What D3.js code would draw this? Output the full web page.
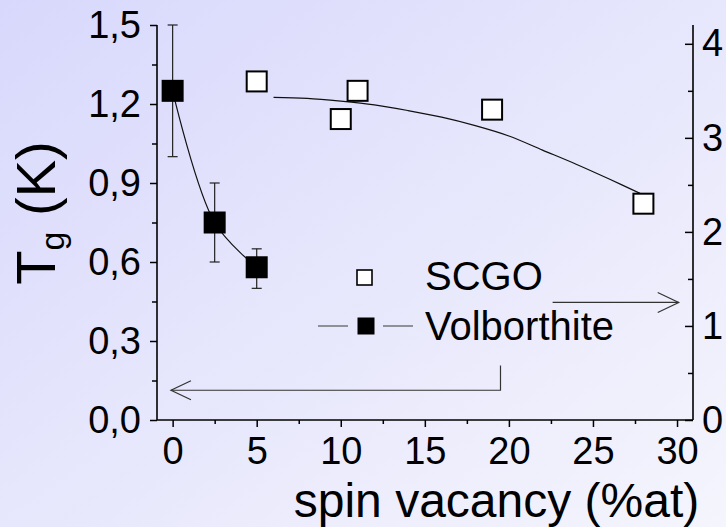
<!DOCTYPE html>
<html><head><meta charset="utf-8">
<script src="https://cdn.jsdelivr.net/npm/d3@7"></script>
<style>html,body{margin:0;padding:0;overflow:hidden;}svg{display:block;}</style>
</head><body>
<svg id="c" width="726" height="527"></svg>
<script>
// ---- data ----
const volbX = [0, 2.5, 5];
const volbY = [1.25, 0.75, 0.58];
const volbLo = [1.0, 0.6, 0.5];
const volbHi = [1.5, 0.9, 0.65];

const scgoX = [5, 10, 11, 19, 28];
const scgoY = [3.60, 3.20, 3.50, 3.30, 2.30];

const fitX = [6, 8, 10, 12, 14, 16, 18, 20, 22, 24, 26, 27.8];
const fitY = [3.43, 3.42, 3.39, 3.35, 3.29, 3.22, 3.13, 3.02, 2.87, 2.72, 2.56, 2.41];

const xTicks = [0, 5, 10, 15, 20, 25, 30];
const yLeftTicks = [0, 0.3, 0.6, 0.9, 1.2, 1.5];
const yLeftLabels = ["0,0", "0,3", "0,6", "0,9", "1,2", "1,5"];
const yRightTicks = [0, 1, 2, 3, 4];
const legendLabels = ["SCGO", "Volborthite"];

// annotation arrows in data units
const leftArrow = [[19.5, 0.207], [19.5, 0.113], [-0.1, 0.113]];
const rightArrow = [[22.6, 1.25], [30.1, 1.25]];

// ---- layout ----
const svg = d3.select("#c");
const FONT = "'Liberation Sans', Arial, Helvetica, sans-serif";
const L = 157, R = 693, T = 25, B = 420;

const x = d3.scaleLinear().domain([-0.93, 30.95]).range([L, R]);
const yL = d3.scaleLinear().domain([0, 1.5]).range([B, T]);
const yR = d3.scaleLinear().domain([0, 4.2]).range([B, T]);

// background
const defs = svg.append("defs");
const g = defs.append("linearGradient").attr("id", "bg")
  .attr("x1", "0").attr("y1", "0").attr("x2", "1").attr("y2", "1");
g.append("stop").attr("offset", "0").attr("stop-color", "#d8d8fc");
g.append("stop").attr("offset", "1").attr("stop-color", "#f5f5fd");
svg.append("rect").attr("width", 726).attr("height", 527).attr("fill", "url(#bg)");

// axes
const axX = d3.axisBottom(x).tickValues(xTicks).tickSize(7).tickPadding(10).tickFormat(d3.format("d"));
const axXm = d3.axisBottom(x).tickValues(d3.range(2.5, 30, 5)).tickSize(4).tickFormat("");
svg.append("g").attr("transform", `translate(0,${B})`).call(axX);
svg.append("g").attr("transform", `translate(0,${B})`).call(axXm);

const axL = d3.axisLeft(yL).tickValues(yLeftTicks).tickSize(7).tickPadding(9)
  .tickFormat((d, i) => yLeftLabels[i]);
const axLm = d3.axisLeft(yL).tickValues(d3.range(0.15, 1.5, 0.3)).tickSize(5).tickFormat("");
svg.append("g").attr("transform", `translate(${L},0)`).call(axL);
svg.append("g").attr("transform", `translate(${L},0)`).call(axLm);

const axR = d3.axisRight(yR).tickValues(yRightTicks).tickSize(-8).tickPadding(9).tickFormat(d3.format("d"));
const axRm = d3.axisRight(yR).tickValues(d3.range(0.5, 4.2, 1)).tickSize(-5).tickFormat("");
svg.append("g").attr("transform", `translate(${R},0)`).call(axR);
svg.append("g").attr("transform", `translate(${R},0)`).call(axRm);

svg.selectAll(".tick line").attr("stroke", "#000").attr("stroke-width", 1.5);
svg.selectAll(".tick text").attr("font-family", FONT).attr("font-size", 38).attr("fill", "#000");
// clean axis lines
svg.selectAll(".domain").remove();
svg.append("line").attr("x1", L).attr("x2", R).attr("y1", B).attr("y2", B).attr("stroke", "#000").attr("stroke-width", 1.6);
svg.append("line").attr("x1", L).attr("x2", L).attr("y1", T).attr("y2", B).attr("stroke", "#000").attr("stroke-width", 1.6);
svg.append("line").attr("x1", R).attr("x2", R).attr("y1", T).attr("y2", B).attr("stroke", "#000").attr("stroke-width", 1.6);

// axis labels
svg.append("text").attr("x", 496.5).attr("y", 517).attr("text-anchor", "middle")
  .attr("font-family", FONT).attr("font-size", 48).text("spin vacancy (%at)");

const yl = svg.append("text").attr("transform", "translate(55,213) rotate(-90)")
  .attr("text-anchor", "middle").attr("font-family", FONT).attr("font-size", 56);
yl.append("tspan").text("T");
yl.append("tspan").attr("font-size", 34).attr("dy", 9).text("g");
yl.append("tspan").attr("dy", -9).text(" (K)");

// arrows
const lineGen = d3.line();
const arrowColor = "#333";
svg.append("path").attr("fill", "none").attr("stroke", arrowColor).attr("stroke-width", 1.2)
  .attr("d", lineGen(leftArrow.map(d => [x(d[0]), yL(d[1])])));
{
  const tx = x(leftArrow[2][0]), ty = yL(leftArrow[2][1]);
  svg.append("path").attr("fill", "none").attr("stroke", arrowColor).attr("stroke-width", 1.2)
    .attr("d", `M${tx + 20},${ty - 9.5}L${tx},${ty}L${tx + 20},${ty + 9.5}`);
}
svg.append("path").attr("fill", "none").attr("stroke", arrowColor).attr("stroke-width", 1.2)
  .attr("d", lineGen(rightArrow.map(d => [x(d[0]), yR(d[1])])));
{
  const tx = x(rightArrow[1][0]), ty = yR(rightArrow[1][1]);
  svg.append("path").attr("fill", "none").attr("stroke", arrowColor).attr("stroke-width", 1.2)
    .attr("d", `M${tx - 21},${ty - 10}L${tx},${ty}L${tx - 21},${ty + 10}`);
}

// SCGO fit line
svg.append("path").attr("fill", "none").attr("stroke", "#111").attr("stroke-width", 1.2)
  .attr("d", d3.line().curve(d3.curveCatmullRom)(fitX.map((v, i) => [x(v), yR(fitY[i])])));

// Volborthite connecting line
svg.append("path").attr("fill", "none").attr("stroke", "#111").attr("stroke-width", 1.2)
  .attr("d", d3.line().curve(d3.curveCatmullRom)(volbX.map((v, i) => [x(v), yL(volbY[i])])));

// error bars
const eb = svg.append("g").attr("stroke", "#222").attr("stroke-width", 1.2);
volbX.forEach((v, i) => {
  const cx = x(v);
  eb.append("line").attr("x1", cx).attr("x2", cx).attr("y1", yL(volbLo[i])).attr("y2", yL(volbHi[i]));
  eb.append("line").attr("x1", cx - 5).attr("x2", cx + 5).attr("y1", yL(volbLo[i])).attr("y2", yL(volbLo[i]));
  eb.append("line").attr("x1", cx - 5).attr("x2", cx + 5).attr("y1", yL(volbHi[i])).attr("y2", yL(volbHi[i]));
});

// markers
const S = 22;
svg.append("g").selectAll("rect").data(volbX).join("rect")
  .attr("x", (d) => x(d) - S / 2).attr("y", (d, i) => yL(volbY[i]) - S / 2)
  .attr("width", S).attr("height", S).attr("fill", "#000");
svg.append("g").selectAll("rect").data(scgoX).join("rect")
  .attr("x", (d) => x(d) - (S - 2) / 2).attr("y", (d, i) => yR(scgoY[i]) - (S - 2) / 2)
  .attr("width", S - 2).attr("height", S - 2).attr("fill", "#fff").attr("stroke", "#000").attr("stroke-width", 2);

// legend
const lg = svg.append("g");
lg.append("rect").attr("x", 357).attr("y", 270).attr("width", 15).attr("height", 15)
  .attr("fill", "#fff").attr("stroke", "#000").attr("stroke-width", 1.6);
lg.append("line").attr("x1", 318).attr("x2", 348).attr("y1", 326).attr("y2", 326).attr("stroke", "#555").attr("stroke-width", 1.2);
lg.append("line").attr("x1", 383).attr("x2", 413).attr("y1", 326).attr("y2", 326).attr("stroke", "#555").attr("stroke-width", 1.2);
lg.append("rect").attr("x", 357.5).attr("y", 317.5).attr("width", 17).attr("height", 17).attr("fill", "#000");
lg.append("text").attr("x", 425).attr("y", 289.5).attr("font-family", FONT).attr("font-size", 40).text(legendLabels[0]);
lg.append("text").attr("x", 425).attr("y", 340).attr("font-family", FONT).attr("font-size", 40).text(legendLabels[1]);
</script>
</body></html>
